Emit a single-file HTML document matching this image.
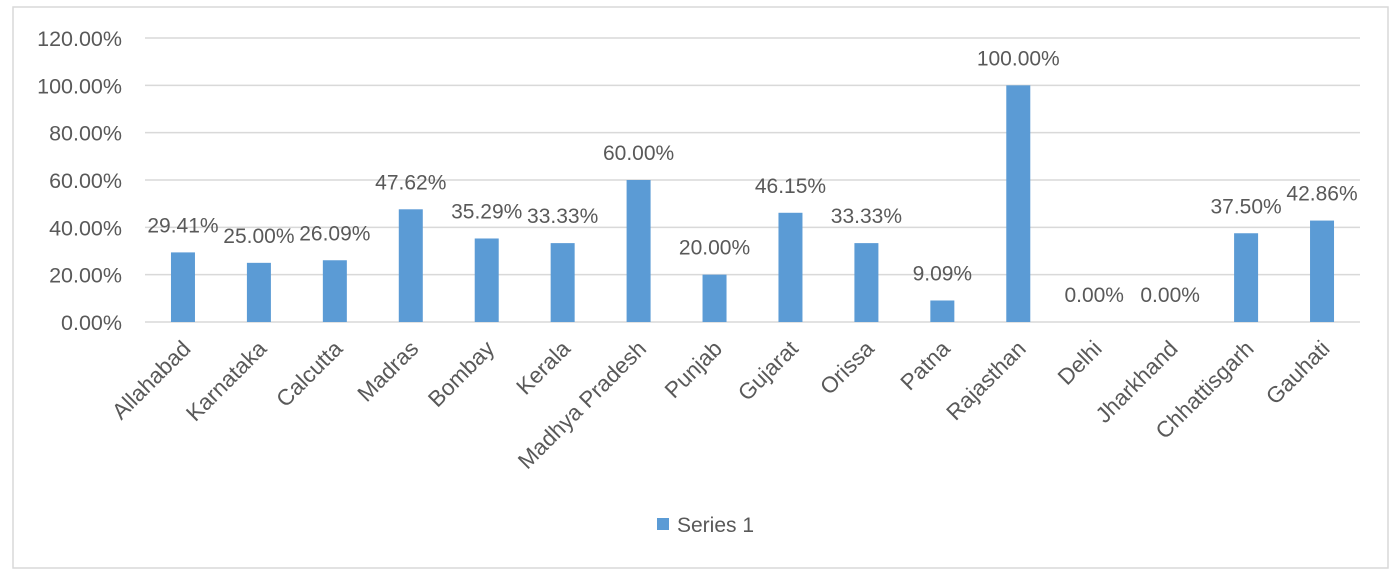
<!DOCTYPE html>
<html><head><meta charset="utf-8"><style>
body{margin:0;background:#fff;}
svg text{font-family:"Liberation Sans",sans-serif;fill:#595959;}
</style></head><body>
<svg id="chart" width="1399" height="578">
<rect x="13" y="7" width="1375" height="561" fill="#fff" stroke="#d9d9d9" stroke-width="1.5"/>
<g id="grid"></g><g id="bars"></g><g id="labels"></g>
<g>
<rect x="657" y="518" width="12" height="12" fill="#5b9bd5"/>
<text x="677" y="532" font-size="21">Series 1</text>
</g>
</svg>
<script>
const categories=["Allahabad","Karnataka","Calcutta","Madras","Bombay","Kerala","Madhya Pradesh","Punjab","Gujarat","Orissa","Patna","Rajasthan","Delhi","Jharkhand","Chhattisgarh","Gauhati"];
const values=[29.41,25.00,26.09,47.62,35.29,33.33,60.00,20.00,46.15,33.33,9.09,100.00,0,0,37.50,42.86];
const ticks=[0,20,40,60,80,100,120];
const NS="http://www.w3.org/2000/svg";
const x0=145,x1=1360,yBase=322,yTop=38,vmax=120;
const y=v=>yBase-(v/vmax)*(yBase-yTop);
const step=(x1-x0)/categories.length;
const xc=i=>x0+step*(i+0.5);
function mk(t,a,p){const e=document.createElementNS(NS,t);for(const k in a)e.setAttribute(k,a[k]);p.appendChild(e);return e;}
const grid=document.getElementById('grid'),bars=document.getElementById('bars'),labels=document.getElementById('labels');
ticks.forEach(t=>{
 const l=mk('line',{x1:x0,x2:x1,y1:y(t),y2:y(t),stroke:'#d9d9d9','stroke-width':1.5},grid);
 
 
 const tx=mk('text',{x:122,y:y(t)+8,'text-anchor':'end','font-size':21.5},grid);
 tx.textContent=t.toFixed(2)+'%';
 
 
});
categories.forEach((c,i)=>{
 const v=values[i];
 const r=mk('rect',{x:xc(i)-12,y:y(v),width:24,height:yBase-y(v),fill:'#5b9bd5'},bars);
 
 
 const vl=mk('text',{x:xc(i),y:y(v)-20,'text-anchor':'middle','font-size':21},labels);
 vl.textContent=v.toFixed(2)+'%';
 
 
 const ax=xc(i)+9,ay=350;
 const cl=mk('text',{x:ax,y:ay,'text-anchor':'end','font-size':22.5,transform:`rotate(-45 ${ax} ${ay})`},labels);
 cl.textContent=c;
 
 
});
</script>
</body></html>
